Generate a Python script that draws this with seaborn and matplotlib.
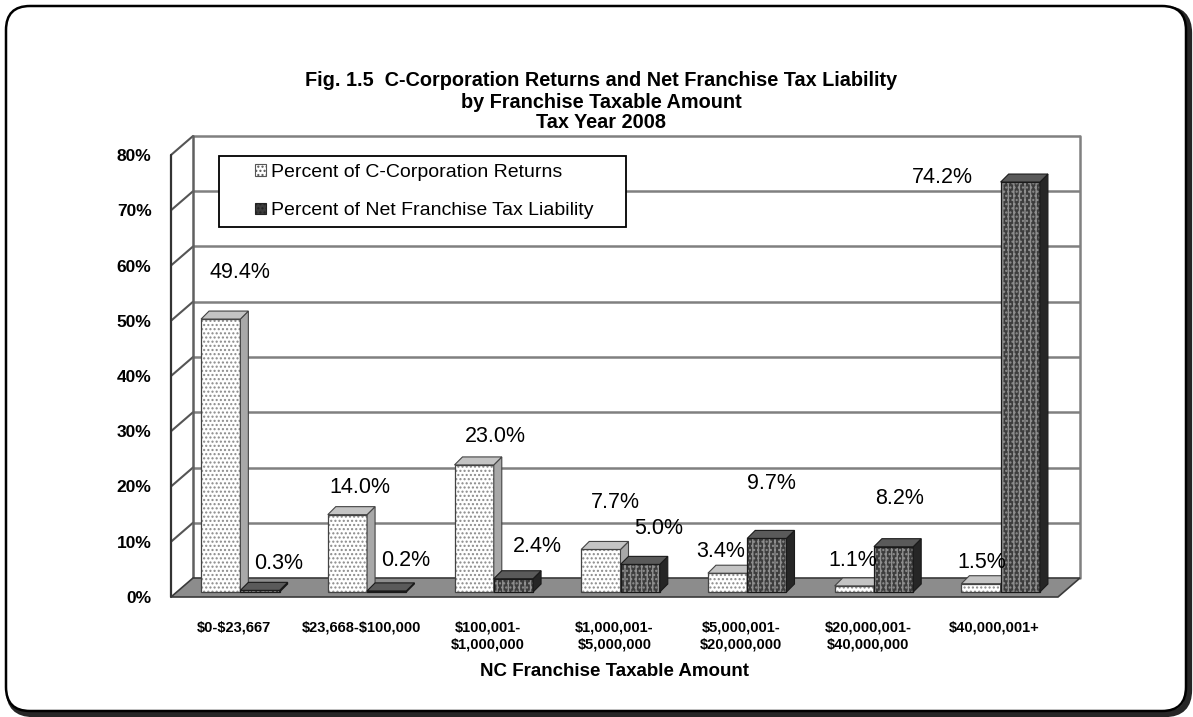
import numpy as np
import pandas as pd
import matplotlib
matplotlib.use("Agg")
import matplotlib.pyplot as plt
import seaborn as sns
from matplotlib.patches import Polygon, Rectangle, FancyBboxPatch, Patch
from matplotlib.transforms import ScaledTranslation
from matplotlib.ticker import PercentFormatter

# ---- data -------------------------------------------------------------
brackets = [
    "$0-$23,667",
    "$23,668-$100,000",
    "$100,001-\n$1,000,000",
    "$1,000,001-\n$5,000,000",
    "$5,000,001-\n$20,000,000",
    "$20,000,001-\n$40,000,000",
    "$40,000,001+",
]
series_names = ["Percent of C-Corporation Returns",
                "Percent of Net Franchise Tax Liability"]
returns_pct = [49.4, 14.0, 23.0, 7.7, 3.4, 1.1, 1.5]
liability_pct = [0.3, 0.2, 2.4, 5.0, 9.7, 8.2, 74.2]
y_ticks = [0, 10, 20, 30, 40, 50, 60, 70, 80]

title_lines = [
    "Fig. 1.5  C-Corporation Returns and Net Franchise Tax Liability",
    "by Franchise Taxable Amount",
    "Tax Year 2008",
]
x_title = "NC Franchise Taxable Amount"

# label nudges (pixels, x right / y up) relative to each bar's top
label_nudge = [
    [(19, 47), (12, 27), (21, 28), (15, 47), (-7, 22), (-2, 25), (1, 21)],
    [(19, 27), (19, 30), (24, 32), (19, 36), (5, 55), (6, 48), (-78, 5)],
]

# ---- style ------------------------------------------------------------
sns.set_style("white")
plt.rcParams["font.family"] = ["Liberation Sans", "DejaVu Sans"]
plt.rcParams["text.parse_math"] = False
plt.rcParams["text.color"] = "black"
plt.rcParams["axes.labelcolor"] = "black"
plt.rcParams["xtick.color"] = "black"
plt.rcParams["ytick.color"] = "black"
plt.rcParams["hatch.linewidth"] = 1.0

W, H, DPI = 1193, 717, 100
fig = plt.figure(figsize=(W / DPI, H / DPI), dpi=DPI)
fig.patch.set_facecolor("white")

# front plane of the pseudo-3D box
ax = fig.add_axes([171 / W, 1 - 597 / H, (1058 - 171) / W, (597 - 155) / H])
ax.set_facecolor("none")

df = pd.DataFrame({
    "bracket": brackets * 2,
    "series": [series_names[0]] * len(brackets) + [series_names[1]] * len(brackets),
    "pct": returns_pct + liability_pct,
})
sns.barplot(data=df, x="bracket", y="pct", hue="series", hue_order=series_names,
            palette=["white", "#3c3c3c"], width=0.62, saturation=1,
            errorbar=None, legend=False, ax=ax, zorder=3)

ax.set_xlim(-0.5, len(brackets) - 0.5)
ax.set_ylim(0, 80)
for s in ax.spines.values():
    s.set_visible(False)

DEPTH = (22, 19)       # floor / wall depth in pixels
BAR_SHIFT = (6, 5)     # bars sit slightly behind the front plane
BAR_DEPTH = (8, 8)     # thickness of each bar


def px(x, y, dx=0.0, dy=0.0):
    X, Y = ax.transData.transform((x, y))
    return ax.transData.inverted().transform((X + dx, Y + dy))


x_lo, x_hi = ax.get_xlim()
grid_c = "#808080"

# floor
floor = Polygon([(x_lo, 0), (x_hi, 0), px(x_hi, 0, *DEPTH), px(x_lo, 0, *DEPTH)],
                closed=True, facecolor="#8c8c8c", edgecolor="#3a3a3a", lw=1.2,
                zorder=1, clip_on=False)
ax.add_patch(floor)

# back wall grid, left wall diagonals, wall edges
for t in y_ticks:
    b0 = px(x_lo, t, *DEPTH)
    b1 = px(x_hi, t, *DEPTH)
    if t > 0:
        ax.plot([b0[0], b1[0]], [b0[1], b1[1]], color=grid_c, lw=1.8,
                zorder=0.5, clip_on=False, solid_capstyle="butt")
        ax.plot([x_lo, b0[0]], [t, b0[1]], color="#555555", lw=1.5,
                zorder=0.6, clip_on=False)
bl0, bl1 = px(x_lo, 0, *DEPTH), px(x_lo, 80, *DEPTH)
br0, br1 = px(x_hi, 0, *DEPTH), px(x_hi, 80, *DEPTH)
ax.plot([bl0[0], bl1[0]], [bl0[1], bl1[1]], color="#606060", lw=1.8, zorder=0.6, clip_on=False)
ax.plot([br0[0], br1[0]], [br0[1], br1[1]], color=grid_c, lw=1.8, zorder=0.6, clip_on=False)
ax.plot([x_lo, x_lo], [0, 80], color="#333333", lw=1.6, zorder=0.7, clip_on=False)

# ---- bars with side and top faces -----------------------------------
face_styles = [
    dict(hatch_c="#8a8a8a", side="#a8a8a8", top="#c4c4c4", edge="#444444"),
    dict(hatch_c="#8f8f8f", side="#262626", top="#5a5a5a", edge="#1a1a1a"),
]
shift_tf = ax.transData + ScaledTranslation(BAR_SHIFT[0] / DPI, BAR_SHIFT[1] / DPI,
                                            fig.dpi_scale_trans)
sx, sy = BAR_SHIFT
ex, ey = BAR_SHIFT[0] + BAR_DEPTH[0], BAR_SHIFT[1] + BAR_DEPTH[1]

for k in range(len(brackets)):
    for i, cont in enumerate(ax.containers):
        bar = cont.patches[k]
        st = face_styles[i]
        x0, w, h = bar.get_x(), bar.get_width(), bar.get_height()
        z = 3 + 0.1 * k + 0.02 * i
        bar.set_transform(shift_tf)
        bar.set_hatch("...." if i == 0 else "|||....")
        bar.set_edgecolor(st["hatch_c"])
        bar.set_linewidth(0)
        bar.set_zorder(z)
        outline = Rectangle((x0, 0), w, h, fill=False, edgecolor=st["edge"], lw=0.9,
                            transform=shift_tf, zorder=z + 0.001, clip_on=False)
        ax.add_patch(outline)
        side = Polygon([px(x0 + w, 0, sx, sy), px(x0 + w, 0, ex, ey),
                        px(x0 + w, h, ex, ey), px(x0 + w, h, sx, sy)],
                       closed=True, facecolor=st["side"], edgecolor=st["edge"],
                       lw=0.8, zorder=z + 0.002, clip_on=False)
        top = Polygon([px(x0, h, sx, sy), px(x0 + w, h, sx, sy),
                       px(x0 + w, h, ex, ey), px(x0, h, ex, ey)],
                      closed=True, facecolor=st["top"], edgecolor=st["edge"],
                      lw=0.8, zorder=z + 0.003, clip_on=False)
        ax.add_patch(side)
        ax.add_patch(top)
        # value label
        cx, cy = px(x0 + w / 2, h, sx, sy)
        ax.annotate(f"{h:.1f}%", xy=(cx, cy), xytext=label_nudge[i][k],
                    textcoords="offset pixels", ha="center", va="center",
                    fontsize=15.5, color="black", zorder=10, annotation_clip=False)

# ---- axes ticks and labels ------------------------------------------
ax.set_yticks(y_ticks)
ax.yaxis.set_major_formatter(PercentFormatter(decimals=0))
ax.tick_params(axis="y", length=4, width=1.2, color="#333333", pad=10,
               labelsize=12.5)
for lab in ax.get_yticklabels():
    lab.set_fontweight("bold")

ax.set_xticks(np.arange(x_lo, x_hi + 0.01, 1.0))
ax.set_xticklabels([])
ax.tick_params(axis="x", which="major", length=5, width=1.2, color="#333333",
               direction="out")
ax.set_xticks(range(len(brackets)), minor=True)
ax.set_xticklabels(brackets, minor=True, fontsize=10.5, fontweight="bold",
                   linespacing=1.3)
ax.tick_params(axis="x", which="minor", length=0, pad=17)
ax.set_xlabel(x_title, fontsize=13.5, fontweight="bold", labelpad=8)
ax.set_ylabel("")

# ---- legend ---------------------------------------------------------
leg_box = Rectangle((219 / W, 1 - 227 / H), (626 - 219) / W, (227 - 156) / H,
                    transform=fig.transFigure, facecolor="white",
                    edgecolor="black", lw=1.3, zorder=5)
fig.add_artist(leg_box)
handles = [
    Patch(facecolor="white", edgecolor="#555555", hatch="....", lw=0.8),
    Patch(facecolor="#3c3c3c", edgecolor="#222222", hatch="....", lw=0.8),
]
leg = fig.legend(handles, series_names, loc="upper left",
                 bbox_to_anchor=(255 / W, 1 - 164 / H), frameon=False,
                 fontsize=14, handlelength=0.55, handleheight=0.55,
                 handletextpad=0.25, labelspacing=1.1, borderpad=0,
                 borderaxespad=0)
leg.set_zorder(6)

# ---- title ----------------------------------------------------------
for txt, yy in zip(title_lines, [81, 102, 122]):
    fig.text(601 / W, 1 - yy / H, txt, ha="center", va="center",
             fontsize=14.3, fontweight="bold")

# ---- rounded frame with drop shadow ---------------------------------
shadow = FancyBboxPatch((0.09, 0.03), 11.80, 7.05,
                        boxstyle="round,pad=0,rounding_size=0.24",
                        transform=fig.dpi_scale_trans, facecolor="none",
                        edgecolor="#262626", lw=4.5, zorder=-3)
frame = FancyBboxPatch((0.06, 0.06), 11.80, 7.05,
                       boxstyle="round,pad=0,rounding_size=0.24",
                       transform=fig.dpi_scale_trans, facecolor="white",
                       edgecolor="black", lw=1.8, zorder=-2)
fig.add_artist(shadow)
fig.add_artist(frame)
ax.set_zorder(1)

fig.savefig("out.png", dpi=DPI)
